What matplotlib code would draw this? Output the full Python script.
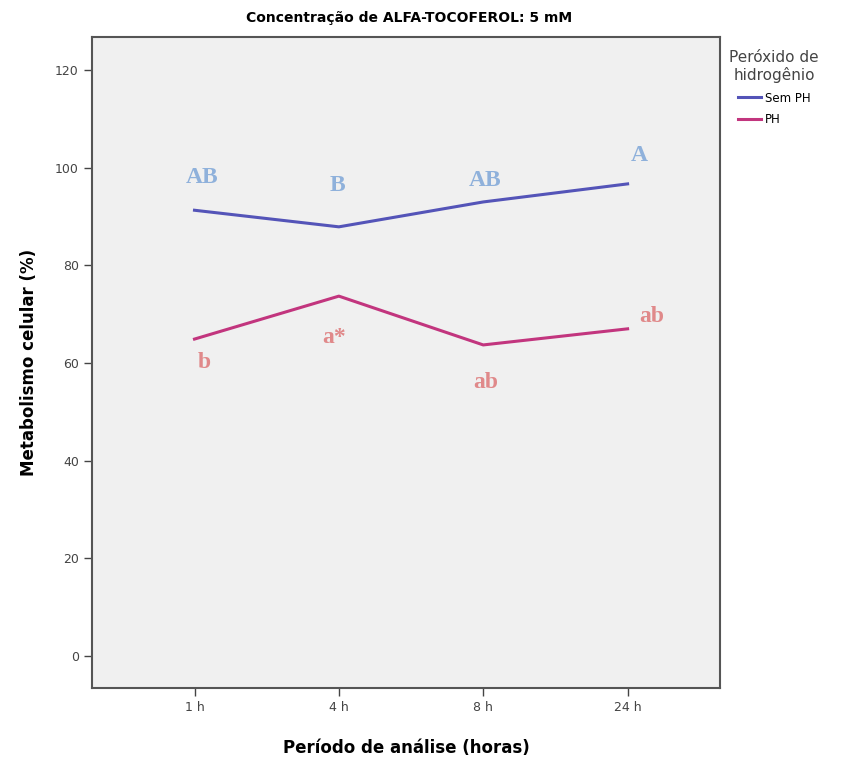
import matplotlib.pyplot as plt

periods = ["1 h", "4 h", "8 h", "24 h"]
sem_ph = [91.3, 87.9, 93.0, 96.7]
ph = [64.9, 73.7, 63.7, 67.0]

# significance letters and where they sit (category index, y value)
sem_ph_letters = ["AB", "B", "AB", "A"]
sem_ph_letter_pos = [(0.05, 98.1), (0.99, 96.3), (2.01, 97.3), (3.08, 102.6)]
ph_letters = ["b", "a*", "ab", "ab"]
ph_letter_pos = [(0.07, 60.0), (0.97, 65.3), (2.02, 55.9), (3.17, 69.6)]

BLUE_LINE = "#5454b8"
PINK_LINE = "#c2357e"
BLUE_TXT = "#8fb1db"
PINK_TXT = "#e0898a"

fig = plt.figure(figsize=(8.45, 7.6), dpi=100)
ax = fig.add_axes([92 / 845, 1 - 688 / 760, 628 / 845, 651 / 760])
ax.set_facecolor("#f0f0f0")

x = range(len(periods))
ax.plot(x, sem_ph, color=BLUE_LINE, lw=2.2, label="Sem PH")
ax.plot(x, ph, color=PINK_LINE, lw=2.2, label="PH")

for txt, (px, py) in zip(sem_ph_letters, sem_ph_letter_pos):
    ax.text(px, py, txt, color=BLUE_TXT, fontsize=17, fontweight="bold",
            family="Liberation Serif", ha="center", va="center")
for txt, (px, py) in zip(ph_letters, ph_letter_pos):
    ax.text(px, py, txt, color=PINK_TXT, fontsize=17, fontweight="bold",
            family="Liberation Serif", ha="center", va="center")

ax.set_xlim(-0.71, 3.64)
ax.set_ylim(-6.6, 126.8)
ax.set_xticks(list(x))
ax.set_xticklabels(periods)
ax.set_yticks(range(0, 121, 20))
ax.tick_params(axis="both", direction="out", length=6, width=1,
               colors="#444444", labelsize=9)
for side in ax.spines.values():
    side.set_color("#555555")
    side.set_linewidth(1.5)

ax.set_ylabel("Metabolismo celular (%)", fontsize=12, fontweight="bold", labelpad=12)
ax.set_xlabel("Período de análise (horas)", fontsize=12, fontweight="bold", labelpad=18)
fig.text(409 / 845, 1 - 18 / 760, "Concentração de ALFA-TOCOFEROL: 5 mM",
         ha="center", va="center", fontsize=10, fontweight="bold")

leg = ax.legend(title="Peróxido de\nhidrogênio", loc="upper left",
                bbox_to_anchor=(1.0, 0.995), frameon=False, fontsize=8.5,
                title_fontsize=11, handlelength=2.0, handletextpad=0.3,
                labelspacing=0.7, borderaxespad=0.4)
leg.get_title().set_ha("center")
leg.get_title().set_color("#444444")

fig.savefig("out.png", dpi=100, facecolor="white")
